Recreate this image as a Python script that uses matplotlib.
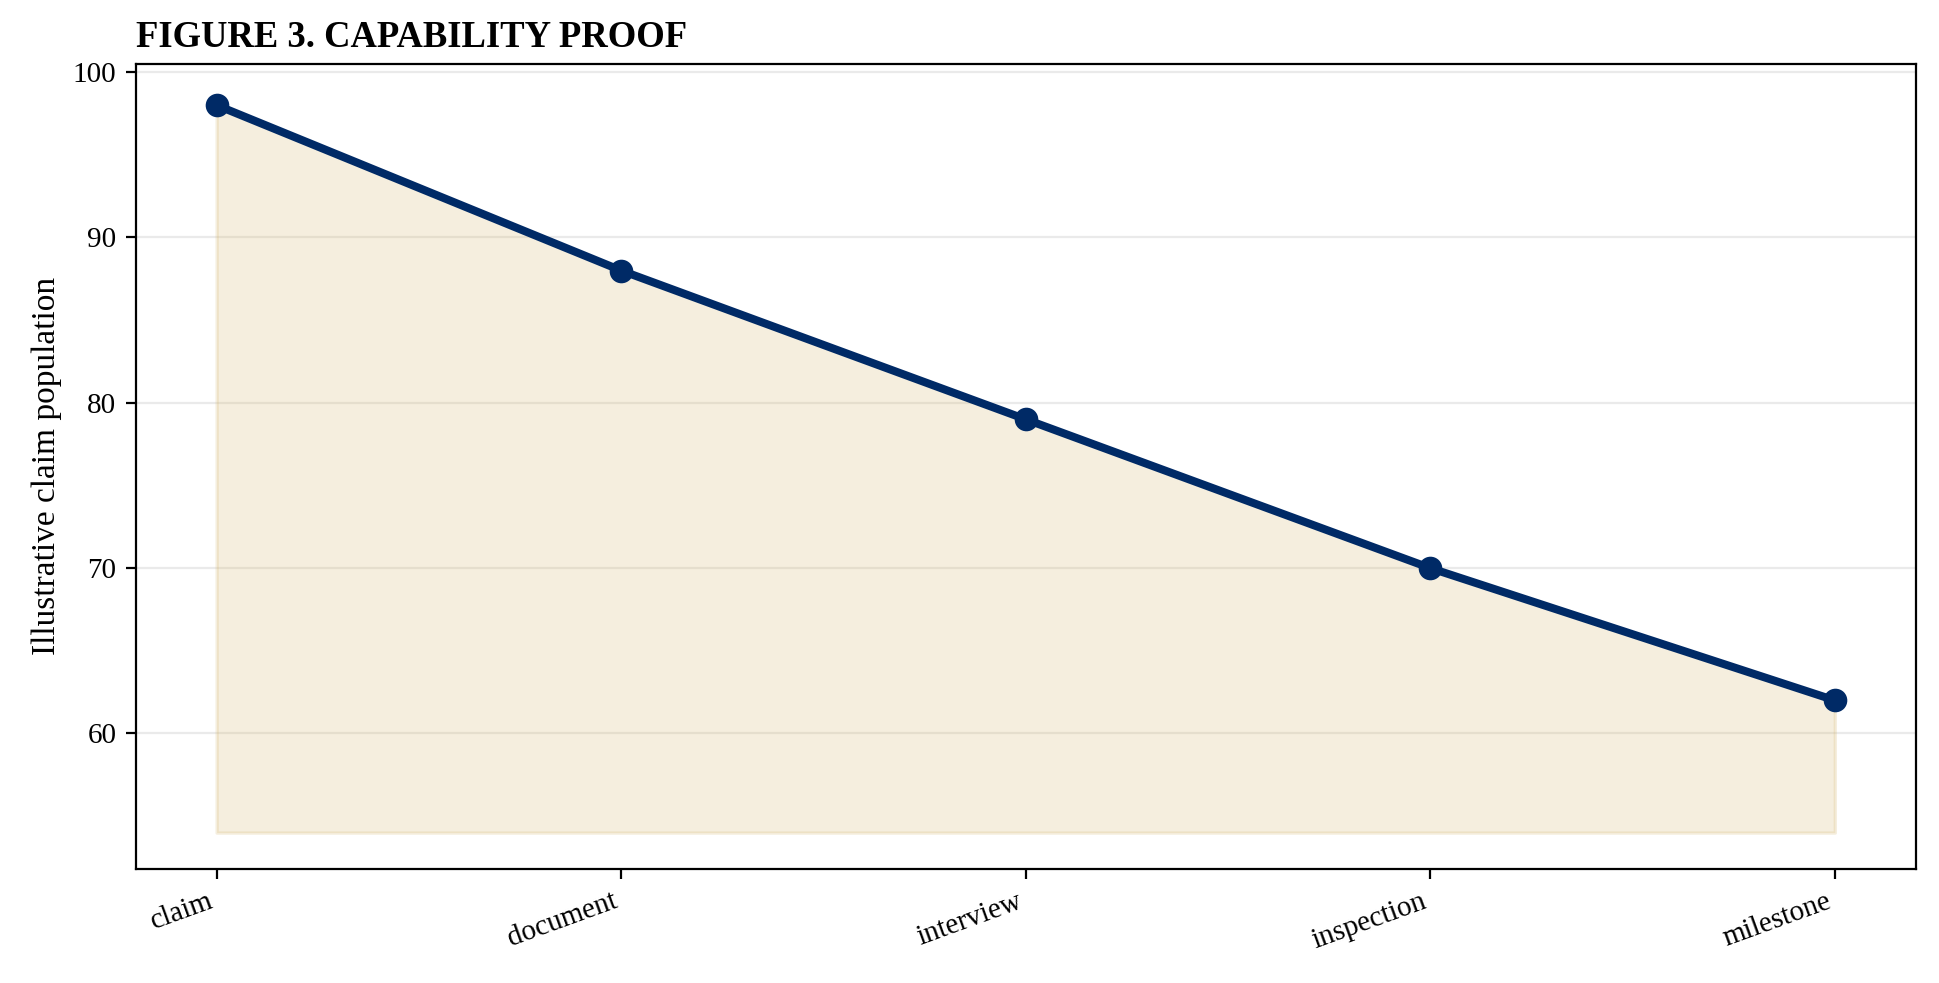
import matplotlib
matplotlib.use("Agg")
from matplotlib import pyplot as plt
import numpy as np

stages = ["claim", "document", "interview", "inspection", "milestone"]
population = [98, 88, 79, 70, 62]
fill_floor = 54

plt.rcParams["font.family"] = ["Liberation Serif", "DejaVu Serif"]

fig, ax = plt.subplots(figsize=(9.695, 4.915), dpi=200)
fig.subplots_adjust(left=0.070, right=0.988, top=0.935, bottom=0.116)

x = np.arange(len(stages))
ax.fill_between(x, population, fill_floor, color="#D4B46A", alpha=0.22, linewidth=1.2)
ax.plot(x, population, color="#002A66", linewidth=2.9, marker="o", markersize=7.5, zorder=3)

ax.set_xticks(x)
ax.set_xticklabels(stages, rotation=20, ha="right", fontsize=10.5)
ax.tick_params(axis="y", labelsize=10.5)
ax.set_xlim(-0.2, len(stages) - 0.8)
ax.set_ylim(51.8, 100.5)
ax.set_ylabel("Illustrative claim population", fontsize=12)
ax.set_title("FIGURE 3. CAPABILITY PROOF", loc="left", fontsize=13.2, fontweight="bold")
ax.grid(axis="y", color="#dddddd", alpha=0.6, linewidth=0.8)
ax.set_axisbelow(True)

fig.savefig("out.png")
